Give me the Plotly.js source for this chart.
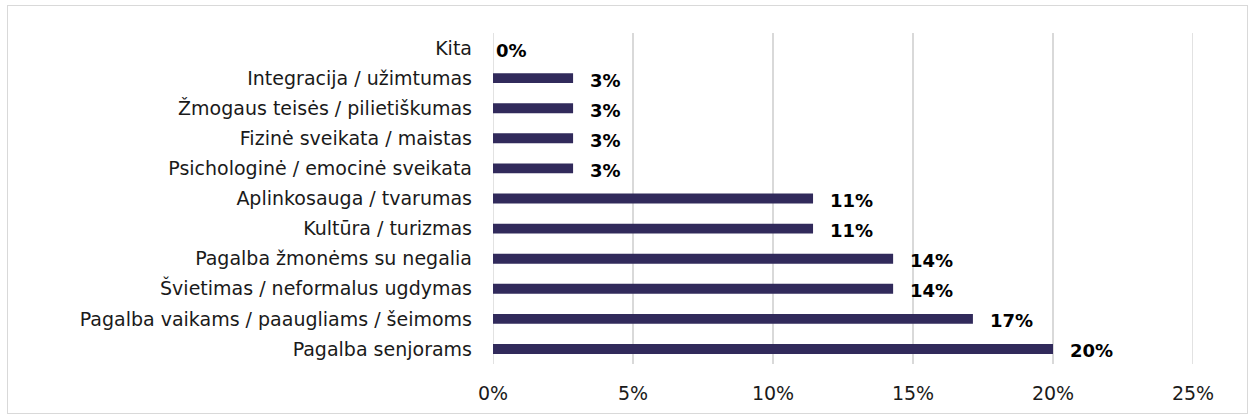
<!DOCTYPE html>
<html>
<head>
<meta charset="utf-8">
<script src="https://cdn.plot.ly/plotly-3.0.1.min.js"></script>
<style>
  html, body { margin: 0; padding: 0; background: #fff; }
  #wrap { position: relative; width: 1254px; height: 418px; }
  #chart { position: absolute; left: 0; top: 0; width: 1254px; height: 418px; }
  #frame { position: absolute; left: 7px; top: 5px; width: 1239px; height: 407px; border: 1px solid #d9d9d9; pointer-events: none; }
</style>
</head>
<body>
<div id="wrap">
  <div id="chart"></div>
  <div id="frame"></div>
</div>
<script>
// Categories listed bottom to top
const categories = [
  "Pagalba senjorams",
  "Pagalba vaikams / paaugliams / šeimoms",
  "Švietimas / neformalus ugdymas",
  "Pagalba žmonėms su negalia",
  "Kultūra / turizmas",
  "Aplinkosauga / tvarumas",
  "Psichologinė / emocinė sveikata",
  "Fizinė sveikata / maistas",
  "Žmogaus teisės / pilietiškumas",
  "Integracija / užimtumas",
  "Kita"
];
const values = [20.0, 17.14, 14.29, 14.29, 11.43, 11.43, 2.86, 2.86, 2.86, 2.86, 0];
const valueLabels = ["20%", "17%", "14%", "14%", "11%", "11%", "3%", "3%", "3%", "3%", "0%"];
const xTickVals = [0, 5, 10, 15, 20, 25];
const xTickText = ["0%", "5%", "10%", "15%", "20%", "25%"];

const FONT = "DejaVu Sans, Verdana, sans-serif";

const trace = {
  type: "bar",
  orientation: "h",
  y: categories,
  x: values,
  marker: { color: "#312a5b" },
  hoverinfo: "skip"
};

const annotations = categories.map((c, i) => ({
  x: values[i],
  y: c,
  xref: "x",
  yref: "y",
  text: "<b>" + valueLabels[i] + "</b>",
  showarrow: false,
  xanchor: "left",
  yanchor: "middle",
  xshift: values[i] > 0 ? 15 : 1,
  yshift: -2,
  font: { family: FONT, size: 18, color: "#000000" }
}));

// Gridlines at the range edges (Plotly omits them at the plot border)
const edgeGrid = [xTickVals[0], xTickVals[xTickVals.length - 1]].map(v => ({
  type: "line",
  xref: "x",
  yref: "paper",
  x0: v, x1: v, y0: 0, y1: 1,
  layer: "below",
  line: { color: "#d9d9d9", width: 1.5 }
}));

const layout = {
  width: 1254,
  height: 418,
  margin: { l: 493, r: 61, t: 33, b: 54 },
  paper_bgcolor: "rgba(0,0,0,0)",
  plot_bgcolor: "rgba(0,0,0,0)",
  showlegend: false,
  bargap: 0.67,
  xaxis: {
    range: [0, 25],
    tickvals: xTickVals,
    ticktext: xTickText,
    showgrid: true,
    gridcolor: "#d9d9d9",
    gridwidth: 1.5,
    zeroline: false,
    showline: false,
    ticks: "",
    ticklabelstandoff: 16,
    tickfont: { family: FONT, size: 19, color: "#1a1a1a" },
    fixedrange: true
  },
  yaxis: {
    categoryorder: "array",
    categoryarray: categories,
    showgrid: false,
    zeroline: false,
    showline: false,
    ticks: "",
    ticklabelstandoff: 20,
    tickfont: { family: FONT, size: 19, color: "#1a1a1a" },
    fixedrange: true
  },
  shapes: edgeGrid,
  annotations: annotations
};

Plotly.newPlot("chart", [trace], layout, { displayModeBar: false, staticPlot: true });
</script>
</body>
</html>
